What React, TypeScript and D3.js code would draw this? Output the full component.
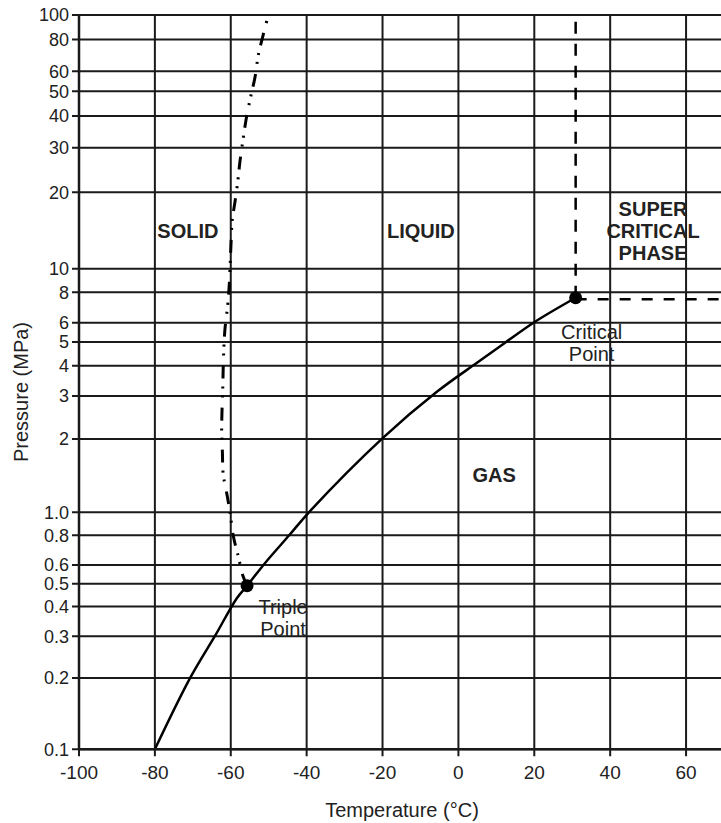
import React, { useEffect, useRef } from 'react';
import * as d3 from 'd3';

// axis ticks
const xTicks = [-100, -80, -60, -40, -20, 0, 20, 40, 60];
const xTickLabels = ['-100', '-80', '-60', '-40', '-20', '0', '20', '40', '60'];
const yTicks = [0.1, 0.2, 0.3, 0.4, 0.5, 0.6, 0.8, 1, 2, 3, 4, 5, 6, 8, 10, 20, 30, 40, 50, 60, 80, 100];
const yTickLabels = ['0.1', '0.2', '0.3', '0.4', '0.5', '0.6', '0.8', '1.0', '2', '3', '4', '5', '6', '8', '10', '20', '30', '40', '50', '60', '80', '100'];

// sublimation + vaporization curve (°C, MPa)
const vaporTemps = [-80, -70.7, -64.2, -58.4, -55.7, -51.0, -44.6, -39.4, -19.9, -5.6, 4.9, 12.3, 20.2, 30.9];
const vaporPressures = [0.1, 0.2, 0.3, 0.434, 0.49, 0.61, 0.8, 1.0, 2.02, 3.13, 4.11, 4.97, 6.06, 7.6];

// melting curve, from the triple point upwards
const meltTemps = [-55.7, -56.8, -58.0, -59.3, -60.2, -60.9, -62.0, -62.2, -62.4, -62.3, -62.1, -62.0, -61.8, -61.5, -60.8, -60.4, -60.2, -59.9, -59.6, -58.9, -58.1, -57.6, -56.7, -55.8, -54.7, -53.6, -52.7, -51.5, -50.1];
const meltPressures = [0.49, 0.54, 0.65, 0.79, 1.0, 1.16, 1.44, 1.75, 2.14, 2.63, 3.27, 3.88, 4.82, 5.71, 7.1, 8.57, 10, 12.9, 15.6, 18.3, 22.4, 26.3, 32.8, 40, 48, 57, 70, 83, 100];

const triplePoint = [-55.7, 0.49];
const criticalPoint = [30.9, 7.6];

const phaseNames = ['SOLID', 'LIQUID', 'SUPER\nCRITICAL\nPHASE', 'GAS'];
const phaseTemps = [-71.3, -9.9, 51.3, 9.4];
const phasePressures = [13.2, 13.2, 13.2, 1.33];

const width = 721;
const height = 823;
const FONT = '"Liberation Sans", Arial, Helvetica, sans-serif';
const INK = '#1a1a1a';

const App = () => {
    const svgRef = useRef(null);

    useEffect(() => {
        const svg = d3.select(svgRef.current);
        svg.selectAll('*').remove();

        const x = d3.scaleLinear().domain([-100, 70]).range([79, 724]);
        // decades in the source are not quite even
        const y = d3.scaleLog().domain([0.1, 1, 10, 100]).range([749.3, 512.3, 268.7, 15]);

        const top = y(100);
        const bottom = y(0.1);
        const left = x(-100);

        // grid
        const grid = svg.append('g').attr('stroke', INK).attr('stroke-width', 2);
        grid.selectAll('.hgrid')
            .data(yTicks)
            .enter()
            .append('line')
            .attr('x1', left - 7)
            .attr('x2', width)
            .attr('y1', d => y(d))
            .attr('y2', d => y(d));
        grid.selectAll('.vgrid')
            .data(xTicks)
            .enter()
            .append('line')
            .attr('x1', d => x(d))
            .attr('x2', d => x(d))
            .attr('y1', top)
            .attr('y2', bottom + 7);

        // tick labels
        svg.append('g')
            .selectAll('text')
            .data(yTicks)
            .enter()
            .append('text')
            .attr('x', left - 10)
            .attr('y', d => y(d))
            .attr('dy', '0.35em')
            .attr('text-anchor', 'end')
            .style('font-family', FONT)
            .style('font-size', '18px')
            .style('fill', '#222')
            .text((d, i) => yTickLabels[i]);

        svg.append('g')
            .selectAll('text')
            .data(xTicks)
            .enter()
            .append('text')
            .attr('x', d => x(d))
            .attr('y', 779)
            .attr('text-anchor', 'middle')
            .style('font-family', FONT)
            .style('font-size', '19px')
            .style('fill', '#222')
            .text((d, i) => xTickLabels[i]);

        // axis titles
        svg.append('text')
            .attr('x', 402)
            .attr('y', 817)
            .attr('text-anchor', 'middle')
            .style('font-family', FONT)
            .style('font-size', '20px')
            .style('fill', '#222')
            .text('Temperature (°C)');

        svg.append('text')
            .attr('transform', 'translate(28,392) rotate(-90)')
            .attr('text-anchor', 'middle')
            .style('font-family', FONT)
            .style('font-size', '20px')
            .style('fill', '#222')
            .text('Pressure (MPa)');

        // critical isotherm / isobar
        svg.append('line')
            .attr('x1', x(criticalPoint[0]))
            .attr('x2', x(criticalPoint[0]))
            .attr('y1', y(criticalPoint[1]))
            .attr('y2', top)
            .attr('stroke', '#000')
            .attr('stroke-width', 2.5)
            .attr('stroke-dasharray', '12,10');
        svg.append('line')
            .attr('x1', x(criticalPoint[0]))
            .attr('x2', width)
            .attr('y1', y(criticalPoint[1]) + 1.5)
            .attr('y2', y(criticalPoint[1]) + 1.5)
            .attr('stroke', '#000')
            .attr('stroke-width', 2.5)
            .attr('stroke-dasharray', '11,11');

        // melting curve
        const meltLine = d3.line()
            .x(i => x(meltTemps[i]))
            .y(i => y(meltPressures[i]))
            .curve(d3.curveCatmullRom.alpha(0.5));
        svg.append('path')
            .datum(d3.range(meltTemps.length))
            .attr('fill', 'none')
            .attr('stroke', '#000')
            .attr('stroke-width', 3)
            .attr('stroke-dasharray', '13,10,2,7,2,8')
            .attr('d', meltLine);

        // sublimation + vaporization curve
        const vaporLine = d3.line()
            .x(i => x(vaporTemps[i]))
            .y(i => y(vaporPressures[i]))
            .curve(d3.curveCatmullRom.alpha(0.5));
        svg.append('path')
            .datum(d3.range(vaporTemps.length))
            .attr('fill', 'none')
            .attr('stroke', '#000')
            .attr('stroke-width', 2.5)
            .attr('d', vaporLine);

        // triple and critical points
        svg.selectAll('.pt')
            .data([triplePoint, criticalPoint])
            .enter()
            .append('circle')
            .attr('cx', d => x(d[0]))
            .attr('cy', d => y(d[1]))
            .attr('r', 6.5)
            .attr('fill', '#000');

        const pointLabel = (pt, lines, dx, dy) => {
            const t = svg.append('text')
                .attr('text-anchor', 'middle')
                .style('font-family', FONT)
                .style('font-size', '20px')
                .style('fill', '#222');
            lines.forEach((s, i) => {
                t.append('tspan')
                    .attr('x', x(pt[0]) + dx)
                    .attr('y', y(pt[1]) + dy + i * 22)
                    .text(s);
            });
        };
        pointLabel(triplePoint, ['Triple', 'Point'], 36, 28);
        pointLabel(criticalPoint, ['Critical', 'Point'], 16, 41);

        // phase region labels
        phaseNames.forEach((name, k) => {
            const lines = name.split('\n');
            const t = svg.append('text')
                .attr('text-anchor', 'middle')
                .style('font-family', FONT)
                .style('font-size', '20px')
                .style('font-weight', 'bold')
                .style('fill', '#222');
            lines.forEach((s, i) => {
                t.append('tspan')
                    .attr('x', x(phaseTemps[k]))
                    .attr('y', y(phasePressures[k]) + (i - (lines.length - 1) / 2) * 22)
                    .text(s);
            });
        });

        // axes
        svg.append('line')
            .attr('x1', left).attr('x2', left)
            .attr('y1', top).attr('y2', bottom)
            .attr('stroke', INK).attr('stroke-width', 2.5);
        svg.append('line')
            .attr('x1', left).attr('x2', width)
            .attr('y1', bottom).attr('y2', bottom)
            .attr('stroke', INK).attr('stroke-width', 2.5);
    }, []);

    return (
        <svg
            ref={svgRef}
            width={width}
            height={height}
            style={{ position: 'absolute', left: 0, top: 0, background: '#fff' }}
        />
    );
};

export default App;
